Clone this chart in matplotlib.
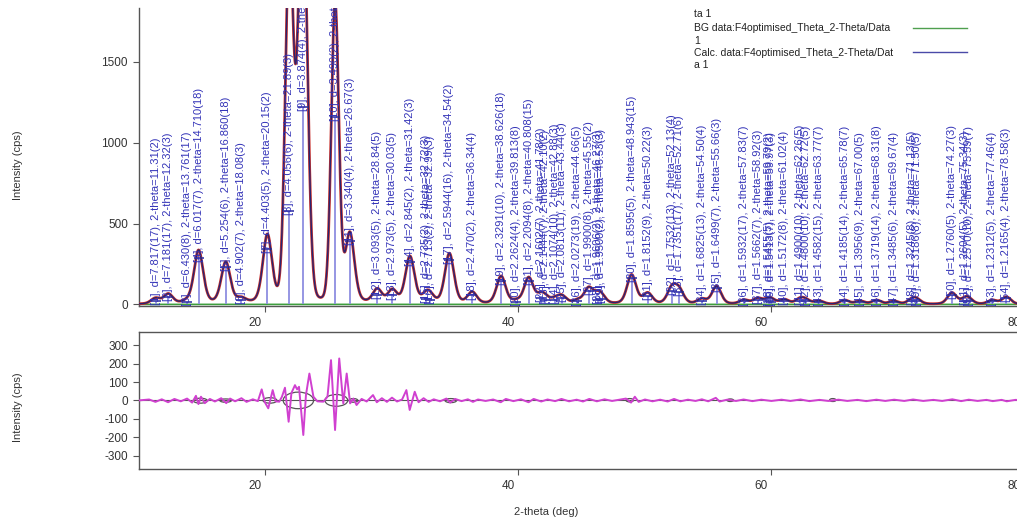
import numpy as np
import matplotlib.pyplot as plt
from matplotlib.patches import Ellipse
from matplotlib.lines import Line2D
from matplotlib.transforms import ScaledTranslation
from matplotlib import font_manager

plt.rcParams['font.family'] = ['Liberation Sans', 'DejaVu Sans']
plt.rcParams['axes.unicode_minus'] = False
narrow = 'Liberation Sans Narrow'
names = {f.name for f in font_manager.fontManager.ttflist}
if narrow not in names:
    narrow = 'Liberation Sans'

# Peak list (d and 2-theta labels as printed on the chart)
d_lab = ['7.817(17)', '7.181(17)', '6.430(8)', '6.017(7)', '5.254(6)', '4.902(7)',
         '4.403(5)', '4.056(6)', '3.874(4)', '3.490(2)', '3.340(4)', '3.093(5)',
         '2.973(5)', '2.845(2)', '2.735(2)', '2.713(2)', '2.5944(16)', '2.470(2)',
         '2.3291(10)', '2.2624(4)', '2.2094(8)', '2.1602(7)', '2.1444(7)', '2.1074(10)',
         '2.0813(11)', '2.0273(19)', '1.9900(8)', '1.9606(2)', '1.9500(2)', '1.8595(5)',
         '1.8152(9)', '1.7532(13)', '1.7351(17)', '1.6825(13)', '1.6499(7)', '1.5932(17)',
         '1.5662(7)', '1.5455(5)', '1.5413(7)', '1.5172(8)', '1.4900(10)', '1.4800(10)',
         '1.4582(15)', '1.4185(14)', '1.3956(9)', '1.3719(14)', '1.3485(6)', '1.3245(8)',
         '1.3186(8)', '1.2760(5)', '1.2604(5)', '1.2570(10)', '1.2312(5)', '1.2165(4)']
tt_lab = ['11.31(2)', '12.32(3)', '13.761(17)', '14.710(18)', '16.860(18)', '18.08(3)',
          '20.15(2)', '21.89(3)', '22.94(1)', '25.50(1)', '26.67(3)', '28.84(5)',
          '30.03(5)', '31.42(3)', '32.72(3)', '32.99(3)', '34.54(2)', '36.34(4)',
          '38.626(18)', '39.813(8)', '40.808(15)', '41.78(2)', '42.10(2)', '42.88(3)',
          '43.44(3)', '44.66(5)', '45.55(2)', '46.27(3)', '46.53(3)', '48.943(15)',
          '50.22(3)', '52.13(4)', '52.71(6)', '54.50(4)', '55.66(3)', '57.83(7)',
          '58.92(3)', '59.79(2)', '59.97(3)', '61.02(4)', '62.26(5)', '62.72(5)',
          '63.77(7)', '65.78(7)', '67.00(5)', '68.31(8)', '69.67(4)', '71.13(5)',
          '71.50(5)', '74.27(3)', '75.34(3)', '75.59(7)', '77.46(4)', '78.58(3)']
pos = [float(s.split('(')[0]) for s in tt_lab]

# curve height (cps) at each peak
height = [35, 60, 12, 330, 255, 28, 420, 2200, 2600, 1850, 430, 85,
          80, 290, 45, 35, 310, 70, 170, 15, 160, 45, 25, 25,
          45, 20, 95, 35, 40, 180, 65, 95, 80, 30, 110, 25,
          35, 22, 18, 28, 30, 22, 20, 25, 20, 25, 20, 28,
          22, 70, 28, 22, 25, 45]
# peak marker bar heights (cps)
marker = [20, 45, 12, 285, 230, 25, 340, 580, 1220, 1160, 390, 60,
          55, 265, 35, 30, 275, 55, 145, 12, 145, 40, 25, 25,
          40, 18, 80, 30, 35, 165, 50, 85, 75, 22, 100, 18,
          28, 18, 14, 22, 22, 18, 14, 18, 14, 18, 14, 22,
          18, 60, 22, 18, 18, 38]
fwhm = [0.85] * len(pos)
fwhm[7] = 0.75
fwhm[8] = 0.85
fwhm[9] = 0.7
eta = [0.3] * len(pos)
eta[7] = eta[8] = eta[9] = 0.08

# residual (obs - calc)
res_x = [10.0, 10.8, 11.3, 11.8, 12.3, 12.8, 13.3, 13.8, 14.2, 14.5, 14.7, 14.9, 15.2, 15.6,
         16.0, 16.5, 16.9, 17.2, 17.6, 18.1, 18.5, 19.0, 19.4, 19.7, 19.95, 20.22, 20.57, 20.8,
         21.09, 21.3, 21.54, 21.83, 22.05, 22.33, 22.5, 22.65, 22.99, 23.2, 23.47, 23.79, 24.1,
         24.58, 24.9, 25.18, 25.5, 25.83, 26.15, 26.42, 26.69, 26.95, 27.2, 27.6, 28.0, 28.5,
         28.8, 29.2, 29.6, 30.0, 30.4, 30.8, 31.14, 31.4, 31.8, 32.1, 32.5, 32.9, 33.3, 33.8,
         34.3, 34.6, 35.0, 35.5, 36.0, 36.4, 36.8, 37.4, 38.0, 38.6, 39.0, 39.6, 40.2, 40.8,
         41.2, 41.8, 42.3, 42.9, 43.4, 44.0, 44.6, 45.1, 45.6, 46.2, 46.8, 47.4, 48.0, 48.5,
         48.9, 49.2, 49.5, 50.0, 50.6, 51.2, 51.8, 52.3, 52.8, 53.4, 54.0, 54.5, 55.0, 55.6,
         55.9, 56.5, 57.2, 57.8, 58.5, 59.2, 60.0, 60.8, 61.5, 62.3, 63.0, 63.8, 64.5, 65.3,
         66.0, 66.8, 67.5, 68.3, 69.0, 69.7, 70.5, 71.2, 72.0, 72.8, 73.5, 74.3, 75.0, 75.6,
         76.3, 77.0, 77.5, 78.2, 78.6, 79.3, 80.0]
res_y = [0, 5, -8, 6, -10, 8, -5, 10, -12, 25, -20, 20, -15, 8,
         -6, 12, -15, 10, -5, 12, -8, 6, -4, 60, -10, -43, 56, -5,
         -7, 20, 69, -116, 40, 83, 60, 74, -188, 30, 146, 20, -5,
         -7, 20, 219, -161, 228, -16, 146, -16, 10, -25, 8, -6, 29,
         -10, 12, -8, 15, -6, 5, 56, -52, 47, -10, 12, -8, 6, -5,
         10, -12, 8, -4, 6, -8, 5, -3, 5, -10, 8, -4, 6, -10,
         8, -6, 5, -4, 8, -5, 4, -6, 8, -5, 6, -3, 4, 10,
         -12, 20, -8, 5, -5, 4, -6, 8, -5, 4, -3, 6, -5, 14,
         -6, 4, -3, 5, -4, 4, -3, 4, -3, 5, -4, 3, -3, 4,
         -3, 3, -4, 4, -3, 4, -3, 5, -3, 3, -3, 6, -4, 4,
         -3, 3, -4, 3, -5, 3, 0]

# grey envelope loops in the difference panel: start, end, up, down
loops = [(14.3, 15.4, 12, 15), (16.4, 17.3, 8, 10), (19.8, 20.9, 15, 15),
         (21.4, 23.8, 45, 45), (24.7, 26.5, 32, 32), (26.6, 27.3, 10, 10),
         (34.2, 35.1, 10, 12), (48.5, 49.1, 10, 8), (56.5, 57.0, 8, 6),
         (64.6, 65.1, 10, 6)]

W, H = 1017, 519


def rect(l, t, r, b):
    return [l / W, 1 - b / H, (r - l) / W, (b - t) / H]


fig = plt.figure(figsize=(W / 100, H / 100), dpi=100)
ax = fig.add_axes(rect(139, 8, 1032, 306))
ax2 = fig.add_axes(rect(139, 332, 1032, 469))

# calculated profile: pseudo-Voigt peaks at the listed positions
x = np.linspace(10, 80.6, 5000)
calc = np.zeros_like(x)
for p, h, w, e in zip(pos, height, fwhm, eta):
    u = (x - p) / w
    calc += h * ((1 - e) * np.exp(-4 * np.log(2) * u ** 2) + e / (1 + 4 * u ** 2))

ax.plot(x, np.zeros_like(x), color='#3f9f3f', lw=1.2, zorder=2)
ax.plot(x, calc, color='#c8302c', lw=2.0, zorder=3)
ax.vlines(pos, 0, marker, color='#8e8ee0', lw=1.3, zorder=4)
ax.plot(pos, marker, ls='none', marker='_', ms=7, mew=1.2, color='#3a3aa8', zorder=5)
ax.plot(x, calc, color='#2a2470', lw=1.0, zorder=6)

for i, (p, m) in enumerate(zip(pos, marker)):
    ax.text(p, m - 25, f'[{i + 1}], d={d_lab[i]}, 2-theta={tt_lab[i]}', rotation=90,
            ha='center', va='bottom', fontsize=8, family=narrow, color='#3434b8',
            clip_on=True, zorder=7)

ax.set_xlim(10, 80.6)
ax.set_ylim(-10, 1834)
ax.set_xticks([20, 40, 60, 80])
ax.set_yticks([0, 500, 1000, 1500])
for s in ['top', 'right']:
    ax.spines[s].set_visible(False)

ax2.plot(res_x, res_y, color='#d040d0', lw=1.4, zorder=3)
ax2.axhline(0, color='#555555', lw=0.8, zorder=2)
for x0, x1, up, dn in loops:
    ax2.add_patch(Ellipse(((x0 + x1) / 2, (up - dn) / 2), x1 - x0, up + dn,
                          fill=False, ec='#555555', lw=0.9, zorder=2))
ax2.set_xlim(10, 80.6)
ax2.set_ylim(-373, 372)
ax2.set_xticks([20, 40, 60, 80])
ax2.set_yticks([300, 200, 100, 0, -100, -200, -300])

for a in (ax, ax2):
    for s in a.spines.values():
        s.set_color('#555555')
        s.set_linewidth(1.0)
    a.tick_params(direction='out', length=4, width=0.8, color='#555555',
                  labelsize=8.5, labelcolor='#333333', pad=4)
    for lab in a.get_xticklabels():
        lab.set_transform(lab.get_transform() + ScaledTranslation(-0.1, 0, fig.dpi_scale_trans))

fig.text(18 / W, 1 - 165 / H, 'Intensity (cps)', rotation=90, ha='center', va='center',
         fontsize=8, color='#333333')
fig.text(18 / W, 1 - 407 / H, 'Intensity (cps)', rotation=90, ha='center', va='center',
         fontsize=8, color='#333333')
fig.text(546 / W, 1 - 512 / H, '2-theta (deg)', ha='center', va='center',
         fontsize=8, color='#333333')

leg = [(14, 'ta 1'), (28, 'BG data:F4optimised_Theta_2-Theta/Data'), (41, '1'),
       (53, 'Calc. data:F4optimised_Theta_2-Theta/Dat'), (65, 'a 1')]
for yy, t in leg:
    fig.text(694 / W, 1 - yy / H, t, ha='left', va='center', fontsize=7.5, color='#222222')
fig.add_artist(Line2D([913 / W, 967 / W], [1 - 28 / H, 1 - 28 / H], color='#4f9f4f',
                      lw=1.0, transform=fig.transFigure))
fig.add_artist(Line2D([913 / W, 967 / W], [1 - 52 / H, 1 - 52 / H], color='#4a4aa8',
                      lw=1.0, transform=fig.transFigure))

fig.savefig('out.png', dpi=100)
